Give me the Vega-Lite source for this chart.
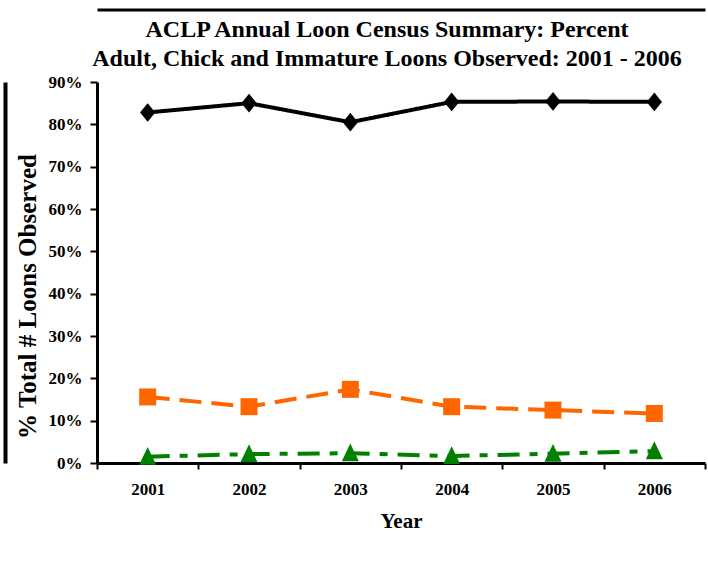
{
  "$schema": "https://vega.github.io/schema/vega-lite/v6.json",
  "width": 608,
  "height": 381,
  "autosize": {"type": "none"},
  "padding": {"left": 97, "top": 82, "right": 3, "bottom": 108},
  "background": "white",
  "config": {
    "view": {"stroke": null},
    "font": "Liberation Serif",
    "legend": {
      "strokeColor": "black",
      "fillColor": "white",
      "padding": 5,
      "labelFont": "Liberation Serif",
      "labelFontWeight": "bold",
      "labelFontSize": 16,
      "labelColor": "black",
      "symbolSize": 256,
      "symbolOffset": 22,
      "labelOffset": 16,
      "rowPadding": 0,
      "symbolStrokeWidth": 0,
      "symbolFillColor": "black",
      "symbolOpacity": 1
    }
  },
  "title": {
    "text": ["ACLP Annual Loon Census Summary: Percent", "Adult, Chick and Immature Loons Observed: 2001 - 2006"],
    "font": "Liberation Serif",
    "fontSize": 24,
    "fontWeight": "bold",
    "color": "black",
    "anchor": "middle",
    "frame": "group",
    "dx": -14,
    "offset": -61,
    "lineHeight": 29
  },
  "data": {
    "values": [
      {"year": "2001", "series": "%Loons=Adults", "value": 0.828},
      {"year": "2002", "series": "%Loons=Adults", "value": 0.850},
      {"year": "2003", "series": "%Loons=Adults", "value": 0.805},
      {"year": "2004", "series": "%Loons=Adults", "value": 0.853},
      {"year": "2005", "series": "%Loons=Adults", "value": 0.854},
      {"year": "2006", "series": "%Loons=Adults", "value": 0.853},
      {"year": "2001", "series": "%Loons=Chicks", "value": 0.156},
      {"year": "2002", "series": "%Loons=Chicks", "value": 0.133},
      {"year": "2003", "series": "%Loons=Chicks", "value": 0.174},
      {"year": "2004", "series": "%Loons=Chicks", "value": 0.133},
      {"year": "2005", "series": "%Loons=Chicks", "value": 0.125},
      {"year": "2006", "series": "%Loons=Chicks", "value": 0.117},
      {"year": "2001", "series": "%Loons= Immatures", "value": 0.015},
      {"year": "2002", "series": "%Loons= Immatures", "value": 0.021},
      {"year": "2003", "series": "%Loons= Immatures", "value": 0.023},
      {"year": "2004", "series": "%Loons= Immatures", "value": 0.0165},
      {"year": "2005", "series": "%Loons= Immatures", "value": 0.022},
      {"year": "2006", "series": "%Loons= Immatures", "value": 0.028}
    ]
  },
  "resolve": {"axis": {"x": "independent", "y": "independent"}},
  "layer": [
    {
      "mark": {"type": "line", "strokeWidth": 4},
      "encoding": {
        "x": {
          "field": "year",
          "type": "ordinal",
          "scale": {"type": "band", "paddingInner": 0, "paddingOuter": 0},
          "axis": {
            "orient": "bottom",
            "tickBand": "extent",
            "domainColor": "black",
            "domainWidth": 3,
            "tickColor": "black",
            "tickWidth": 2,
            "tickSize": 6,
            "labelAngle": 0,
            "labelPadding": 12,
            "labelFont": "Liberation Serif",
            "labelFontWeight": "bold",
            "labelFontSize": 17,
            "labelColor": "black",
            "grid": false,
            "title": "Year",
            "titleFont": "Liberation Serif",
            "titleFontSize": 21,
            "titleFontWeight": "bold",
            "titleColor": "black",
            "titlePadding": 13
          }
        },
        "y": {
          "field": "value",
          "type": "quantitative",
          "scale": {"domain": [0, 0.9], "nice": false, "zero": true},
          "axis": {
            "orient": "left",
            "values": [0, 0.1, 0.2, 0.3, 0.4, 0.5, 0.6, 0.7, 0.8, 0.9],
            "format": ".0%",
            "domainColor": "black",
            "domainWidth": 3,
            "tickColor": "black",
            "tickWidth": 2,
            "tickSize": 7,
            "labelFont": "Liberation Serif",
            "labelFontWeight": "bold",
            "labelFontSize": 17,
            "labelColor": "black",
            "labelPadding": 8,
            "grid": false,
            "title": "% Total # Loons Observed",
            "titleFont": "Liberation Serif",
            "titleFontSize": 25,
            "titleFontWeight": "bold",
            "titleColor": "black",
            "titlePadding": 8,
            "titleY": 214
          }
        },
        "color": {
          "field": "series",
          "type": "nominal",
          "scale": {"domain": ["%Loons=Adults", "%Loons=Chicks", "%Loons= Immatures"], "range": ["#000000", "#FF6600", "#008000"]},
          "legend": null
        },
        "strokeDash": {
          "field": "series",
          "type": "nominal",
          "scale": {"domain": ["%Loons=Adults", "%Loons=Chicks", "%Loons= Immatures"], "range": [[1, 0], [22, 10], [22, 10, 8, 10]]},
          "legend": null
        }
      }
    },
    {
      "transform": [{"filter": "datum.series === '%Loons=Adults'"}],
      "mark": {"type": "point", "filled": true, "opacity": 1, "size": 289, "shape": "M0,-1.1L0.9,0L0,1.1L-0.9,0Z"},
      "encoding": {
        "x": {
          "field": "year",
          "type": "ordinal",
          "scale": {"type": "band", "paddingInner": 0, "paddingOuter": 0},
          "axis": {"orient": "top", "offset": 72.5, "domainColor": "black", "domainWidth": 3, "ticks": false, "labels": false, "grid": false, "title": null}
        },
        "y": {
          "field": "value",
          "type": "quantitative",
          "axis": {"orient": "left", "offset": 92, "domainColor": "black", "domainWidth": 4, "ticks": false, "labels": false, "grid": false, "title": null}
        },
        "color": {"field": "series", "type": "nominal", "legend": null}
      }
    },
    {
      "transform": [{"filter": "datum.series === '%Loons=Chicks'"}],
      "mark": {"type": "point", "filled": true, "opacity": 1, "size": 289, "shape": "square"},
      "encoding": {
        "x": {"field": "year", "type": "ordinal", "scale": {"type": "band", "paddingInner": 0, "paddingOuter": 0}, "axis": null},
        "y": {"field": "value", "type": "quantitative", "axis": null},
        "color": {"field": "series", "type": "nominal", "legend": null}
      }
    },
    {
      "transform": [{"filter": "datum.series === '%Loons= Immatures'"}],
      "mark": {"type": "point", "filled": true, "opacity": 1, "size": 289, "shape": "M0,-1.15L1,0.95L-1,0.95Z"},
      "encoding": {
        "x": {"field": "year", "type": "ordinal", "scale": {"type": "band", "paddingInner": 0, "paddingOuter": 0}, "axis": null},
        "y": {"field": "value", "type": "quantitative", "axis": null},
        "color": {"field": "series", "type": "nominal", "legend": null}
      }
    },
    {
      "mark": {"type": "point", "filled": true, "opacity": 0, "size": 256},
      "encoding": {
        "x": {"field": "year", "type": "ordinal", "scale": {"type": "band", "paddingInner": 0, "paddingOuter": 0}, "axis": null},
        "y": {"field": "value", "type": "quantitative", "axis": null},
        "fill": {
          "field": "series",
          "type": "nominal",
          "scale": {"domain": ["%Loons=Adults", "%Loons=Chicks", "%Loons= Immatures"], "range": ["#000000", "#FF6600", "#008000"]},
          "legend": {"title": null, "orient": "none", "legendX": -5, "legendY": 414}
        },
        "shape": {
          "field": "series",
          "type": "nominal",
          "scale": {"domain": ["%Loons=Adults", "%Loons=Chicks", "%Loons= Immatures"], "range": ["M-2.875,-0.25H3.125V0.25H-2.875Z M0.25,-0.75L0.9,0L0.25,0.75L-0.4,0Z", "M-2.875,-0.25H1.25V0.25H-2.875Z M2.75,-0.25H3.0V0.25H2.75Z M-0.8,-0.8H0.8V0.8H-0.8Z", "M-2.875,-0.25H1.25V0.25H-2.875Z M2.75,-0.25H3.0V0.25H2.75Z M0,-0.85L1.05,0.65H-1.05Z"]},
          "legend": {"title": null, "orient": "none", "legendX": -5, "legendY": 414}
        }
      }
    }
  ]
}
